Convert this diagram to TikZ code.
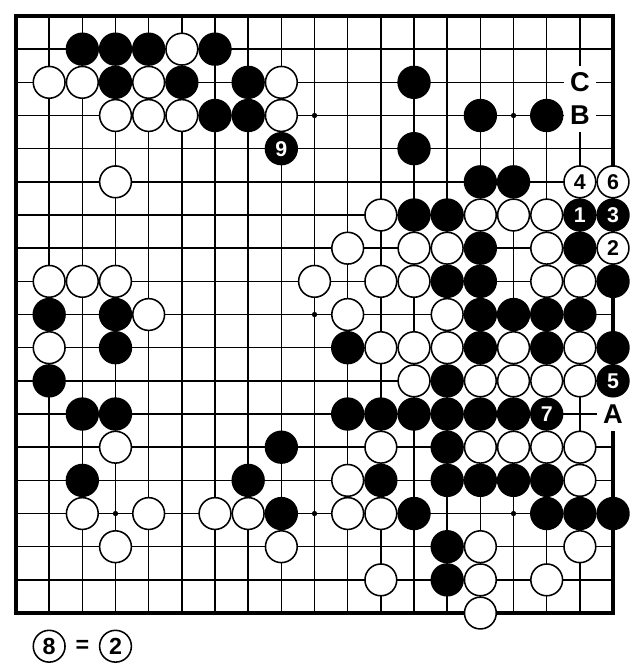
\documentclass[tikz,border=0pt]{standalone}
\usepackage{fontspec}
\setmainfont{Liberation Sans}
\begin{document}
\begin{tikzpicture}[x=0.6cm,y=-0.6cm,
  gridline/.style={line width=0.8pt},
  frameline/.style={line width=2.1pt},
  stonebase/.style={circle, draw=black, line width=0.8pt, minimum size=0.575cm, inner sep=0pt, font=\bfseries\fontsize{11}{11}\selectfont},
  bstone/.style={stonebase, fill=black, text=white},
  wstone/.style={stonebase, fill=white, text=black},
  legstone/.style={wstone, font=\bfseries\fontsize{12}{12}\selectfont},
  ptlabel/.style={rectangle, fill=white, minimum width=0.58cm, minimum height=0.6cm, inner sep=0pt, font=\bfseries\fontsize{14}{14}\selectfont},
  eqsign/.style={inner sep=0pt, font=\bfseries\fontsize{12}{12}\selectfont}
]
\useasboundingbox (-0.482,-0.482) rectangle (18.813,19.747);
% grid
\foreach \i in {1,...,17} {
  \draw[gridline] (\i,0) -- (\i,18);
  \draw[gridline] (0,\i) -- (18,\i);
}
\draw[frameline] (0,0) rectangle (18,18);
% star points
\foreach \c in {3,9,15} \foreach \r in {3,9,15} \fill (\c,\r) circle (0.08);
% letter labels on empty points
\node[ptlabel] (lA) at (18,12) {A};
\node[ptlabel] (lB) at (17,3) {B};
\node[ptlabel] (lC) at (17,2) {C};
% black stones
\foreach \c/\r in {2/1,3/1,4/1,6/1, 3/2,5/2,7/2,12/2, 6/3,7/3,14/3,16/3, 12/4, 14/5,15/5,
  12/6,13/6, 14/7,17/7, 13/8,14/8,18/8, 1/9,3/9,14/9,15/9,16/9,17/9,
  3/10,10/10,14/10,16/10,18/10, 1/11,13/11, 2/12,3/12,10/12,11/12,12/12,13/12,14/12,15/12,
  8/13,13/13, 2/14,7/14,11/14,13/14,14/14,15/14,16/14, 8/15,12/15,16/15,17/15,18/15,
  13/16, 13/17}
  \node[bstone] (b\c-\r) at (\c,\r) {};
% numbered black stones
\foreach \c/\r/\t in {17/6/1, 18/6/3, 18/11/5, 16/12/7, 8/4/9}
  \node[bstone] (b\c-\r) at (\c,\r) {\t};
% white stones
\foreach \c/\r in {5/1, 1/2,2/2,4/2,8/2, 3/3,4/3,5/3,8/3, 3/5,
  11/6,14/6,15/6,16/6, 10/7,12/7,13/7,16/7,
  1/8,2/8,3/8,9/8,11/8,12/8,16/8,17/8, 4/9,10/9,13/9,
  1/10,11/10,12/10,13/10,15/10,17/10, 12/11,14/11,15/11,16/11,17/11,
  3/13,11/13,14/13,15/13,16/13,17/13, 10/14,17/14,
  2/15,4/15,6/15,7/15,10/15,11/15, 3/16,8/16,14/16,17/16,
  11/17,14/17,16/17, 14/18}
  \node[wstone] (w\c-\r) at (\c,\r) {};
% numbered white stones
\foreach \c/\r/\t in {18/7/2, 17/5/4, 18/5/6}
  \node[wstone] (w\c-\r) at (\c,\r) {\t};
% legend
\node[legstone] (leg8) at (1,19) {8};
\node[eqsign] (legeq) at (2,19) {=};
\node[legstone] (leg2) at (3,19) {2};
\end{tikzpicture}
\end{document}
